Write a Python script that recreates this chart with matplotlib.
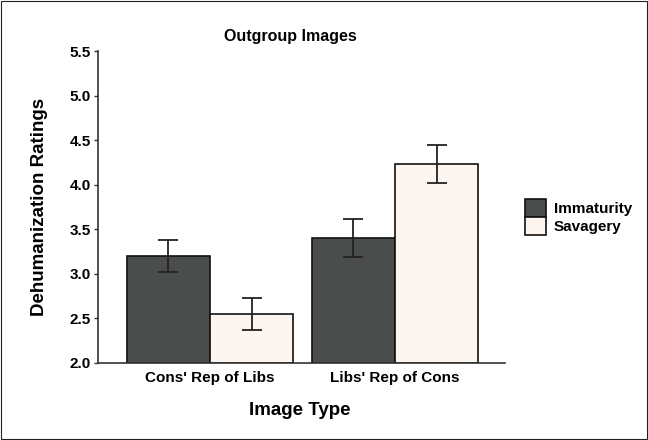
import matplotlib
matplotlib.use('Agg')
import matplotlib.pyplot as plt
import numpy as np
from matplotlib.patches import Rectangle

plt.rcParams['font.family'] = ['Liberation Sans', 'DejaVu Sans']
plt.rcParams['font.weight'] = 'bold'

categories = ["Cons' Rep of Libs", "Libs' Rep of Cons"]
series = ['Immaturity', 'Savagery']
means = {'Immaturity': [3.20, 3.40], 'Savagery': [2.55, 4.23]}
err_lo = {'Immaturity': [3.02, 3.19], 'Savagery': [2.37, 4.02]}
err_hi = {'Immaturity': [3.38, 3.61], 'Savagery': [2.73, 4.44]}
colors = {'Immaturity': '#4b4d4d', 'Savagery': '#fdf6f0'}
yticks = [2.0, 2.5, 3.0, 3.5, 4.0, 4.5, 5.0, 5.5]

fig = plt.figure(figsize=(6.48, 4.4), dpi=100)
ax = fig.add_axes([98/648, 1-363/440, 407/648, 312/440])

x = np.arange(len(categories))
w = 0.45
for i, s in enumerate(series):
    pos = x + (i - 0.5) * w
    m = np.array(means[s])
    lo = m - np.array(err_lo[s])
    hi = np.array(err_hi[s]) - m
    ax.bar(pos, m - 2.0, bottom=2.0, width=w, color=colors[s], edgecolor='#111111',
           linewidth=1.2, label=s, zorder=2)
    ax.errorbar(pos, m, yerr=[lo, hi], fmt='none', ecolor='#222222', elinewidth=1.3,
                capsize=7, capthick=1.3, zorder=3)

ax.set_ylim(2.0, 5.5)
ax.set_xlim(-0.605, 1.595)
ax.set_yticks(yticks)
ax.set_yticklabels(['%.1f' % t for t in yticks], fontsize=11, fontweight='bold')
ax.set_xticks(x)
ax.set_xticklabels(categories, fontsize=11, fontweight='bold')
ax.tick_params(axis='y', length=3, width=1, color='#333333', pad=2)
ax.tick_params(axis='x', length=3, width=1, color='#333333', direction='in', pad=6)
for sp in ['top', 'right']:
    ax.spines[sp].set_visible(False)
for sp in ['left', 'bottom']:
    ax.spines[sp].set_color('#333333')
    ax.spines[sp].set_linewidth(1.2)

fig.text(290/648, 1-36/440, 'Outgroup Images', ha='center', va='center',
         fontsize=11.5, fontweight='bold')
fig.text(40/648, 1-207/440, 'Dehumanization Ratings', ha='center', va='center',
         rotation=90, fontsize=13.5, fontweight='bold')
fig.text(300/648, 1-410/440, 'Image Type', ha='center', va='center',
         fontsize=13.5, fontweight='bold')

leg = fig.legend(loc='center left', bbox_to_anchor=(525/648, 1-217/440), frameon=False,
                 fontsize=11, handlelength=1.4, handleheight=1.45, handletextpad=0.5,
                 labelspacing=0.0, borderaxespad=0, borderpad=0)
for t in leg.get_texts():
    t.set_fontweight('bold')

fig.patches.append(Rectangle((0.002, 0.002), 0.996, 0.996, transform=fig.transFigure,
                             fill=False, edgecolor='#222222', linewidth=0.8))

fig.savefig('out.png', dpi=100)
